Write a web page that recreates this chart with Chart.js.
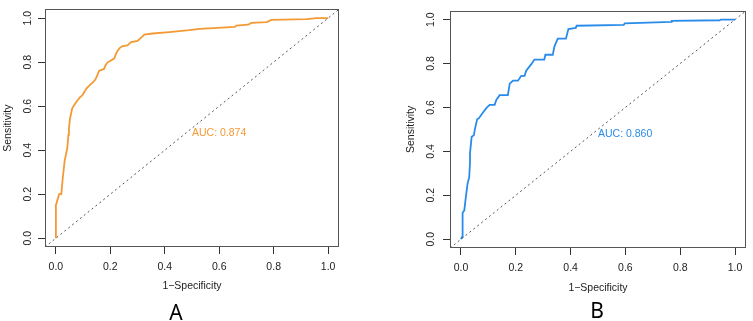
<!DOCTYPE html>
<html>
<head>
<meta charset="utf-8">
<script src="https://cdn.jsdelivr.net/npm/chart.js@4/dist/chart.umd.min.js"></script>
<style>
  html, body { margin: 0; padding: 0; background: #fff; }
  #wrap { position: relative; width: 753px; height: 321px; }
  canvas { position: absolute; top: 0; }
</style>
</head>
<body>
<div id="wrap">
  <canvas id="rocA" width="376" height="321" style="left:0"></canvas>
  <canvas id="rocB" width="377" height="321" style="left:376px"></canvas>
</div>
<script>
// ROC curve A (1-specificity, sensitivity)
const fprA = [0, 0, 0.012, 0.02, 0.025, 0.032, 0.042, 0.046, 0.048, 0.052, 0.06, 0.07, 0.079, 0.088, 0.097,
  0.105, 0.112, 0.12, 0.128, 0.138, 0.146, 0.152, 0.159, 0.177, 0.182, 0.189, 0.214, 0.22, 0.226, 0.235,
  0.245, 0.263, 0.276, 0.3, 0.312, 0.325, 0.355, 0.417, 0.49, 0.528, 0.657, 0.663, 0.706, 0.718, 0.774,
  0.792, 0.921, 0.958, 1];
const tprA = [0, 0.15, 0.2, 0.2, 0.27, 0.35, 0.41, 0.47, 0.5, 0.544, 0.59, 0.61, 0.626, 0.64, 0.649,
  0.665, 0.68, 0.69, 0.7, 0.71, 0.723, 0.74, 0.761, 0.769, 0.785, 0.798, 0.816, 0.835, 0.851, 0.865,
  0.873, 0.876, 0.891, 0.896, 0.91, 0.925, 0.93, 0.936, 0.945, 0.951, 0.96, 0.966, 0.97, 0.978, 0.982,
  0.992, 0.995, 1, 1];

// ROC curve B
const fprB = [0, 0.004, 0.006, 0.01, 0.012, 0.018, 0.024, 0.03, 0.033, 0.033, 0.039, 0.047, 0.051, 0.059,
  0.065, 0.075, 0.093, 0.105, 0.123, 0.129, 0.141, 0.171, 0.178, 0.19, 0.208, 0.22, 0.232, 0.238, 0.256,
  0.268, 0.304, 0.308, 0.335, 0.341, 0.353, 0.383, 0.392, 0.419, 0.422, 0.594, 0.598, 0.767, 0.769,
  0.944, 0.948, 1];
const tprB = [0, 0.01, 0.12, 0.128, 0.13, 0.194, 0.252, 0.282, 0.348, 0.392, 0.466, 0.473, 0.502, 0.546,
  0.55, 0.568, 0.598, 0.612, 0.612, 0.634, 0.656, 0.656, 0.708, 0.722, 0.722, 0.744, 0.744, 0.767, 0.796,
  0.818, 0.818, 0.84, 0.84, 0.877, 0.913, 0.913, 0.957, 0.962, 0.972, 0.976, 0.983, 0.99, 0.994,
  0.997, 1, 1];

const aucA = 0.874;
const aucB = 0.860;

// chance line, across the whole plot region
const diagX = [-0.04, 1.04];
const diagY = [-0.04, 1.04];

const axisTicks = [0, 0.2, 0.4, 0.6, 0.8, 1.0];

const FONT = '"Liberation Sans", Arial, sans-serif';

const framePlugin = {
  id: 'frame',
  afterDraw(chart, args, opts) {
    const { ctx, chartArea: a, scales: { x, y } } = chart;
    ctx.save();
    ctx.strokeStyle = '#555';
    ctx.lineWidth = 1;
    const l = Math.round(a.left) + 0.5, t = Math.round(a.top) + 0.5;
    const r = Math.round(a.right) - 0.5, b = Math.round(a.bottom) - 0.5;
    ctx.strokeRect(l, t, r - l, b - t);

    ctx.fillStyle = opts.color;
    ctx.font = '10.5px ' + FONT;
    ctx.textAlign = 'left';
    ctx.textBaseline = 'alphabetic';
    ctx.fillText('AUC: ' + opts.auc.toFixed(3), x.getPixelForValue(0.5), y.getPixelForValue(0.5) + 7.5);

    ctx.fillStyle = '#000';
    ctx.font = '21px "Noto Sans", sans-serif';
    ctx.textAlign = 'center';
    ctx.textBaseline = 'alphabetic';
    ctx.fillText(opts.letter, opts.letterX, opts.letterY);
    ctx.restore();
  }
};

function rocChart(id, fpr, tpr, color, auc, g) {
  const pts = fpr.map((v, i) => ({ x: v, y: tpr[i] }));
  const diag = diagX.map((v, i) => ({ x: v, y: diagY[i] }));
  const tickFont = { family: FONT, size: 10.5 };
  return new Chart(document.getElementById(id), {
    type: 'scatter',
    data: {
      datasets: [
        { data: diag, showLine: true, borderColor: '#555', borderWidth: 1, borderDash: [2, 3], pointRadius: 0 },
        { data: pts, showLine: true, borderColor: color, borderWidth: 1.8, pointRadius: 0, tension: 0 }
      ]
    },
    options: {
      responsive: false,
      animation: false,
      devicePixelRatio: 1,
      layout: { padding: g.pad },
      plugins: {
        legend: { display: false },
        tooltip: { enabled: false },
        frame: { color: color, auc: auc, letter: g.letter, letterX: g.letterX, letterY: g.letterY }
      },
      scales: {
        x: {
          type: 'linear', min: -0.04, max: 1.04,
          afterBuildTicks: s => { s.ticks = axisTicks.map(v => ({ value: v })); },
          afterFit: s => { s.height = g.xh; },
          border: { display: false },
          grid: { drawOnChartArea: false, drawTicks: true, tickLength: 7, color: '#333', tickColor: '#333' },
          ticks: { autoSkip: false, maxRotation: 0, color: '#222', font: tickFont, padding: g.xpad,
                   callback: v => v.toFixed(1) },
          title: { display: true, text: '1\u2212Specificity', color: '#222', font: tickFont,
                   padding: { top: 0, bottom: 1 } }
        },
        y: {
          type: 'linear', min: -0.04, max: 1.04,
          afterBuildTicks: s => { s.ticks = axisTicks.map(v => ({ value: v })); },
          afterFit: s => { s.width = g.yw; },
          border: { display: false },
          grid: { drawOnChartArea: false, drawTicks: true, tickLength: 7, color: '#333', tickColor: '#333' },
          ticks: { autoSkip: false, minRotation: 90, maxRotation: 90, crossAlign: 'center', color: '#222',
                   font: tickFont, padding: g.ypad, callback: v => v.toFixed(1) },
          title: { display: true, text: 'Sensitivity', color: '#222', font: tickFont,
                   padding: { top: 1.6, bottom: 0 } }
        }
      }
    },
    plugins: [framePlugin]
  });
}

rocChart('rocA', fprA, tprA, '#F39A35', aucA, {
  pad: { left: 0, top: 5, right: 37, bottom: 28 },
  yw: 45, xh: 46, xpad: 7, ypad: 3,
  letter: 'A', letterX: 176, letterY: 320
});

rocChart('rocB', fprB, tprB, '#2A8CEA', aucB, {
  pad: { left: 27, top: 3, right: 7, bottom: 26 },
  yw: 47, xh: 47, xpad: 7, ypad: 4.5,
  letter: 'B', letterX: 221, letterY: 318
});
</script>
</body>
</html>
